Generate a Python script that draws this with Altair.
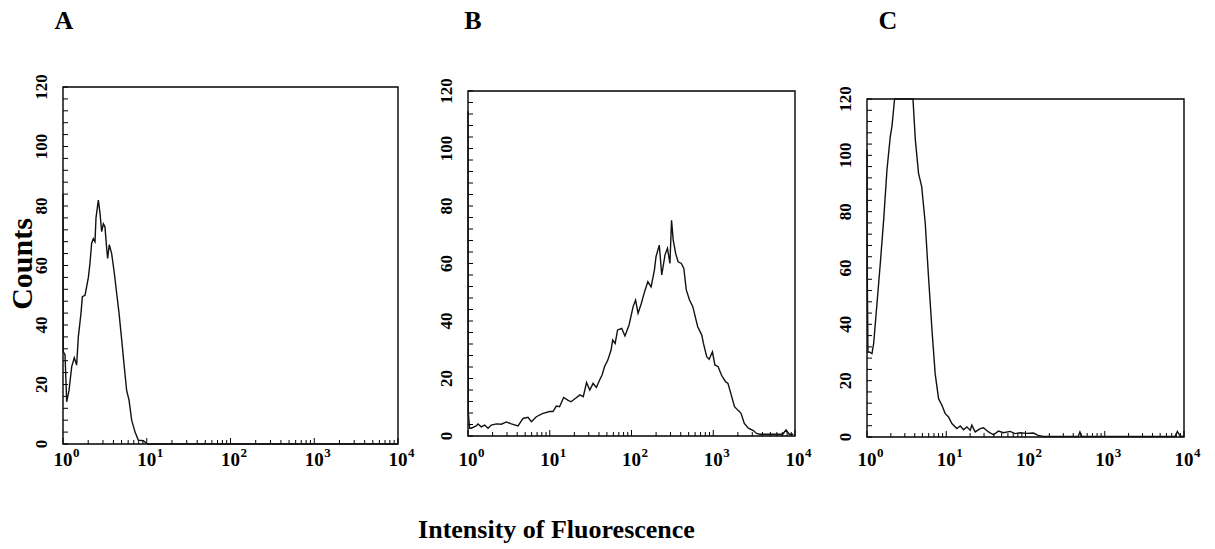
import altair as alt
import pandas as pd

FONT = "Liberation Serif"
H = 357  # common view height (panel A plot height)

# ---- Panel A: log10(intensity) and counts ----
a_log = [0.0, 0.004, 0.024, 0.044, 0.072, 0.104, 0.135, 0.163, 0.183, 0.215, 0.231, 0.263, 0.283,
         0.303, 0.322, 0.342, 0.362, 0.382, 0.394, 0.422, 0.442, 0.462, 0.482, 0.501, 0.521, 0.533,
         0.553, 0.581, 0.613, 0.641, 0.669, 0.701, 0.728, 0.760, 0.788, 0.820, 0.860, 0.899, 0.959,
         0.999, 1.02, 4.0]
a_counts = [84, 31, 30, 14.2, 18, 26, 29, 26.5, 36, 44, 49.5, 50, 53, 56, 60.7, 67.5, 69, 68, 76, 82,
            77.5, 71.4, 74, 73, 66, 62.4, 67, 64, 57.4, 50.6, 44, 35, 27, 18, 14.8, 8, 4, 1.3, 1.1,
            0.2, 0, 0]

# ---- Panel B ----
b_log = [0.0, 0.004, 0.02, 0.04, 0.10, 0.122, 0.163, 0.204, 0.245, 0.285, 0.347, 0.408, 0.469, 0.530,
         0.612, 0.673, 0.734, 0.775, 0.836, 0.917, 0.999, 1.04, 1.08, 1.12, 1.17, 1.22, 1.26, 1.30,
         1.37, 1.41, 1.45, 1.49, 1.53, 1.57, 1.61, 1.64, 1.67, 1.71, 1.75, 1.77, 1.80, 1.83, 1.88,
         1.92, 1.97, 2.02, 2.05, 2.08, 2.12, 2.16, 2.20, 2.24, 2.28, 2.30, 2.34, 2.37, 2.41, 2.44,
         2.47, 2.49, 2.51, 2.54, 2.57, 2.61, 2.64, 2.67, 2.71, 2.75, 2.79, 2.81, 2.86, 2.88, 2.92,
         2.95, 2.99, 3.02, 3.06, 3.10, 3.15, 3.18, 3.22, 3.26, 3.30, 3.34, 3.38, 3.43, 3.49, 3.53,
         3.57, 3.85, 3.89, 3.93, 3.98]
b_counts = [113, 8, 2.7, 2.7, 3.5, 4.2, 3.2, 3.8, 2.7, 3.8, 4.2, 4.1, 4.9, 4.2, 3.5, 6.1, 6.5, 5.0,
            6.7, 7.9, 8.5, 8.5, 10.4, 10.2, 13.4, 12.5, 11.9, 12.8, 14.3, 13.7, 18.6, 16, 18.3, 16.9,
            19.5, 21.2, 24.1, 26.4, 29.9, 33.4, 32.2, 36.9, 37.4, 34.8, 38.6, 45, 47.3, 42.7, 46.1,
            50.2, 53.7, 51.9, 57.7, 62.4, 66.4, 56, 63, 65.3, 60, 75, 68.2, 63.5, 60.6, 60, 58.3,
            50.8, 47.3, 45, 40.3, 38, 35.1, 32.2, 27.6, 26.7, 29.3, 24.7, 24.1, 21.2, 18.9, 18.3,
            14.3, 10.2, 9.0, 7.9, 4.4, 2.7, 1.9, 0.9, 0.6, 0.6, 2.1, 0.6, 0.6]

# ---- Panel C ----
c_log = [0.0, 0.004, 0.012, 0.03, 0.063, 0.084, 0.126, 0.168, 0.21, 0.252, 0.294, 0.315, 0.348, 0.58,
         0.61, 0.65, 0.69, 0.735, 0.776, 0.82, 0.86, 0.903, 0.945, 0.987, 1.029, 1.071, 1.134, 1.176,
         1.218, 1.26, 1.302, 1.323, 1.365, 1.428, 1.47, 1.533, 1.596, 1.659, 1.722, 1.806, 1.869,
         1.932, 2.016, 2.1, 2.16, 2.224, 2.665, 2.687, 2.71, 3.886, 3.916, 3.95, 3.99]
c_counts = [102, 56, 30, 30.2, 29.6, 33.2, 47.4, 61.7, 77, 94.9, 106.7, 110.3, 120, 120, 105.5, 93.7,
            88.9, 75.9, 56.9, 38, 22.5, 13.6, 11.3, 8.3, 7.1, 4.8, 3.0, 3.9, 2.6, 3.6, 2.4, 4.2, 1.8,
            3.0, 3.3, 1.8, 0.8, 2.1, 1.5, 2.0, 1.2, 1.5, 1.3, 1.4, 0.6, 0.2, 0.2, 1.8, 0.2, 0.2, 2.0,
            0.4, 0.2]

# ---- axis ticks / labels ----
y_label_values = [0, 20, 40, 60, 80, 100, 120]
y_tick_values = [0, 4, 8, 12, 16, 20, 24, 28, 32, 36, 40, 44, 48, 52, 56, 60, 64, 68, 72, 76, 80,
                 84, 88, 92, 96, 100, 104, 108, 112, 116, 120]
x_decades = [1, 10, 100, 1000, 10000]
x_exponents = ["0", "1", "2", "3", "4"]
x_minor = [2, 3, 4, 5, 6, 7, 8, 9, 20, 30, 40, 50, 60, 70, 80, 90, 200, 300, 400, 500, 600, 700,
           800, 900, 2000, 3000, 4000, 5000, 6000, 7000, 8000, 9000]

panel_labels = ["A", "B", "C"]
y_title = "Counts"
x_title = "Intensity of Fluorescence"


def panel(logs, counts, W, x0, y_top, y_bot, label, label_x, extras=()):
    xs = alt.Scale(type="log", domain=[1, 10000], range=[x0, W])
    ys = alt.Scale(type="linear", domain=[0, 120], range=[y_bot, y_top], nice=False, zero=False)

    df = pd.DataFrame({"e": logs, "count": counts})
    line = (
        alt.Chart(df)
        .transform_calculate(intensity="pow(10, datum.e)")
        .mark_line(color="#111111", strokeWidth=1.4)
        .encode(
            x=alt.X("intensity:Q", scale=xs, axis=None),
            y=alt.Y("count:Q", scale=ys, axis=None),
            order=alt.Order("e:Q"),
        )
    )

    one = pd.DataFrame({"k": [0]})
    frame = (
        alt.Chart(one)
        .mark_rect(fillOpacity=0, stroke="#000000", strokeWidth=1.4)
        .encode(
            x=alt.X(datum=1, scale=xs, axis=None),
            x2=alt.X2(datum=10000),
            y=alt.Y(datum=0, scale=ys, axis=None),
            y2=alt.Y2(datum=120),
        )
    )

    yt = pd.DataFrame({"v": y_tick_values})
    yticks = (
        alt.Chart(yt)
        .mark_rule(color="#000000", strokeWidth=1)
        .encode(
            y=alt.Y("v:Q", scale=ys, axis=None),
            x=alt.value(x0),
            x2=alt.value(x0 + 5),
        )
    )

    yl = pd.DataFrame({"v": y_label_values, "t": [str(v) for v in y_label_values]})
    ylabels = (
        alt.Chart(yl)
        .mark_text(font=FONT, fontWeight="bold", fontSize=17, angle=270, align="center",
                   baseline="alphabetic", color="#000000")
        .encode(
            y=alt.Y("v:Q", scale=ys, axis=None),
            x=alt.value(x0 - 16),
            text="t:N",
        )
    )

    xmaj = pd.DataFrame({"v": x_decades, "ex": x_exponents})
    xmin = pd.DataFrame({"v": x_minor})
    xticks_major = (
        alt.Chart(xmaj)
        .mark_rule(color="#000000", strokeWidth=1)
        .encode(x=alt.X("v:Q", scale=xs, axis=None), y=alt.value(y_bot), y2=alt.value(y_bot - 6))
    )
    xticks_minor = (
        alt.Chart(xmin)
        .mark_rule(color="#000000", strokeWidth=1)
        .encode(x=alt.X("v:Q", scale=xs, axis=None), y=alt.value(y_bot), y2=alt.value(y_bot - 4))
    )
    xlab_base = (
        alt.Chart(xmaj)
        .mark_text(font=FONT, fontWeight="bold", fontSize=19, align="center", baseline="alphabetic",
                   color="#000000", text="10")
        .encode(x=alt.X("v:Q", scale=xs, axis=None), y=alt.value(379))
    )
    xlab_exp = (
        alt.Chart(xmaj)
        .mark_text(font=FONT, fontWeight="bold", fontSize=13, align="left", baseline="alphabetic",
                   color="#000000", dx=10)
        .encode(x=alt.X("v:Q", scale=xs, axis=None), y=alt.value(370), text="ex:N")
    )

    lab = (
        alt.Chart(one)
        .mark_text(font=FONT, fontWeight="bold", fontSize=26, align="center", baseline="alphabetic",
                   color="#000000", text=label)
        .encode(x=alt.value(label_x), y=alt.value(-58))
    )

    layers = [frame, yticks, xticks_minor, xticks_major, line, ylabels, xlab_base, xlab_exp, lab]
    layers.extend(extras)
    return alt.layer(*layers).properties(width=W, height=H)


one = pd.DataFrame({"k": [0]})
anchor = (
    alt.Chart(one)
    .mark_rule(opacity=0, strokeOpacity=0, strokeWidth=1)
    .encode(x=alt.value(-63), x2=alt.value(-62), y=alt.value(-87), y2=alt.value(-86))
)
counts_title = (
    alt.Chart(one)
    .mark_text(font=FONT, fontWeight="bold", fontSize=30, angle=270, align="center",
               baseline="middle", color="#000000", text=y_title)
    .encode(x=alt.value(-40), y=alt.value(177))
)
x_title_mark = (
    alt.Chart(one)
    .mark_text(font=FONT, fontWeight="bold", fontSize=26, align="center",
               baseline="alphabetic", color="#000000", text=x_title)
    .encode(x=alt.value(88.5), y=alt.value(451))
)

pA = panel(a_log, a_counts, 335, 0, 0, 357, panel_labels[0], 1, extras=(anchor, counts_title))
pB = panel(b_log, b_counts, 327, 0, 4, 349, panel_labels[1], 5, extras=(x_title_mark,))
pC = panel(c_log, c_counts, 319, 2, 12, 350, panel_labels[2], 23)

chart = (
    alt.hconcat(pA, pB, pC, spacing=70, bounds="flush")
    .properties(padding=0, background="white")
    .configure_view(stroke=None)
)

chart.save("out.html", embed_options={"renderer": "svg", "actions": False})
